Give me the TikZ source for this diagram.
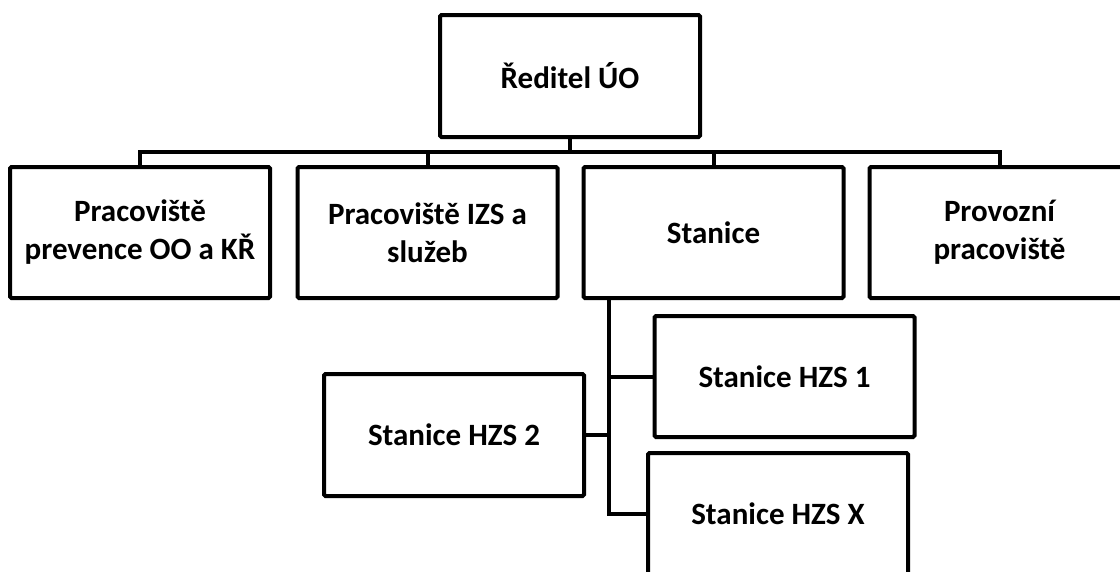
\documentclass[tikz,border=0pt]{standalone}
\usepackage{fontspec}
\setmainfont{Carlito}
\begin{document}
\begin{tikzpicture}[x=1pt,y=-1pt,
  box/.style={draw, line width=4pt, rounded corners=1.5pt, minimum width=260pt, inner sep=0pt, align=center, font=\fontsize{31}{38}\selectfont\bfseries},
  link/.style={line width=4pt, line cap=rect}]
\useasboundingbox (0,0) rectangle (1120,571);
\clip (0,0) rectangle (1120,571);
\node[box, minimum height=122pt] (top) at (570,76) {Ředitel ÚO};
\node[box, minimum height=131pt] (b1) at (140,232.5) {Pracoviště\\prevence OO a KŘ};
\node[box, minimum height=131pt] (b2) at (427.5,232.5) {Pracoviště IZS a\\služeb};
\node[box, minimum height=131pt] (b3) at (713.5,232.5) {Stanice};
\node[box, minimum height=131pt] (b4) at (999.5,232.5) {Provozní\\pracoviště};
\node[box, minimum height=121pt] (h1) at (784.5,376.5) {Stanice HZS 1};
\node[box, minimum height=122pt] (h2) at (454,435) {Stanice HZS 2};
\node[box, minimum height=122pt] (hx) at (778,514) {Stanice HZS X};
\coordinate (bus) at (570,152);
\coordinate (trunk) at ([xshift=27pt]b3.south west);
\draw[link] (top.south) -- (bus);
\draw[link] (b1.north) |- (bus) -| (b4.north);
\draw[link] (b2.north) -- (b2.north |- bus);
\draw[link] (b3.north) -- (b3.north |- bus);
\draw[link] (trunk) |- (hx.west);
\draw[link] (h1.west) -- (h1.west -| trunk);
\draw[link] (h2.east) -- (h2.east -| trunk);
\end{tikzpicture}
\end{document}
